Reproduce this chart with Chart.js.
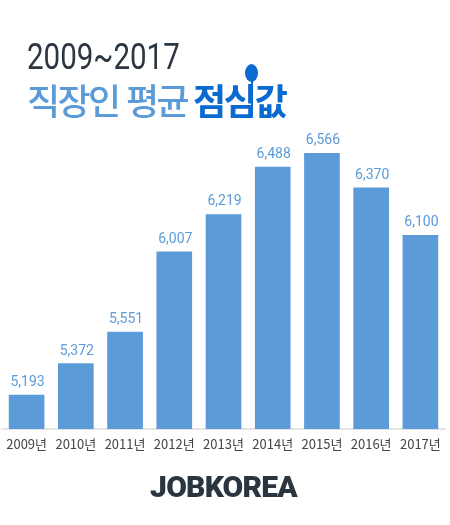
<!DOCTYPE html>
<html lang="ko">
<head>
<meta charset="utf-8">
<title>직장인 평균 점심값</title>
<script src="https://cdn.jsdelivr.net/npm/chart.js@4"></script>
<style>
    body { margin: 0; background: #fff; }
    #wrap { position: relative; width: 450px; height: 525px; overflow: hidden; }
    #wrap div { position: absolute; white-space: nowrap; }
    #t1 { left: 27px; top: 37px; font: 400 36px/40px Roboto, sans-serif; color: #2b3640; transform: scaleX(0.82); transform-origin: left center; }
    #t2 { left: 27px; top: 76px; font: 500 36px/46px "Noto Sans CJK KR", sans-serif; color: #5b9bd8; letter-spacing: -2.6px; }
    #t3 { left: 193px; top: 76px; font: 700 36px/46px "Noto Sans CJK KR", sans-serif; color: #0b6ad0; letter-spacing: -2.3px; }
    #spoonHead { left: 245px; top: 64px; width: 13px; height: 18px; border-radius: 50%; background: #0b6ad0; }
    #spoonStem { left: 250.5px; top: 80px; width: 2px; height: 36px; background: #0b6ad0; }
    #logo { left: 0; width: 447px; text-align: center; top: 469px; font: 900 30px/36px Roboto, sans-serif; letter-spacing: -0.8px; color: #2a3540; }
</style>
</head>
<body>
<div id="wrap">
    <canvas id="chartPrecio" width="450" height="525"></canvas>
    <div id="t1">2009~2017</div>
    <div id="t2">직장인 평균</div>
    <div id="t3">점심값</div>
    <div id="spoonHead"></div>
    <div id="spoonStem"></div>
    <div id="logo">JOBKOREA</div>
</div>
<script>
const anios = ['2009년', '2010년', '2011년', '2012년', '2013년', '2014년', '2015년', '2016년', '2017년'];
const precios = [5193, 5372, 5551, 6007, 6219, 6488, 6566, 6370, 6100];

// Etiquetas encima de cada barra
const etiquetas = {
    id: 'etiquetas',
    afterDatasetsDraw(chart) {
        const ctx = chart.ctx;
        ctx.save();
        ctx.font = '400 14px Roboto, sans-serif';
        ctx.fillStyle = '#5b9bd8';
        ctx.textAlign = 'center';
        ctx.textBaseline = 'alphabetic';
        chart.getDatasetMeta(0).data.forEach((bar, i) => {
            ctx.fillText(precios[i].toLocaleString('en-US'), bar.x + 1, bar.y - 9);
        });
        ctx.restore();
    }
};

new Chart(document.getElementById('chartPrecio').getContext('2d'), {
    type: 'bar',
    data: {
        labels: anios,
        datasets: [{
            data: precios,
            backgroundColor: '#5b9bd8',
            barThickness: 35
        }]
    },
    options: {
        responsive: false,
        animation: false,
        layout: { padding: { top: 77, left: 2, right: 5, bottom: 0 } },
        plugins: { legend: { display: false }, tooltip: { enabled: false } },
        scales: {
            x: {
                grid: { display: false },
                border: { color: '#e4e4e4', width: 2 },
                afterFit(scale) { scale.height = 96; },
                ticks: {
                    color: '#444',
                    padding: -1,
                    maxRotation: 0,
                    autoSkip: false,
                    font: { family: '"Noto Sans CJK KR", sans-serif', size: 13 }
                }
            },
            y: {
                display: false,
                min: 5000,
                max: 7000
            }
        }
    },
    plugins: [etiquetas]
});
</script>
</body>
</html>
